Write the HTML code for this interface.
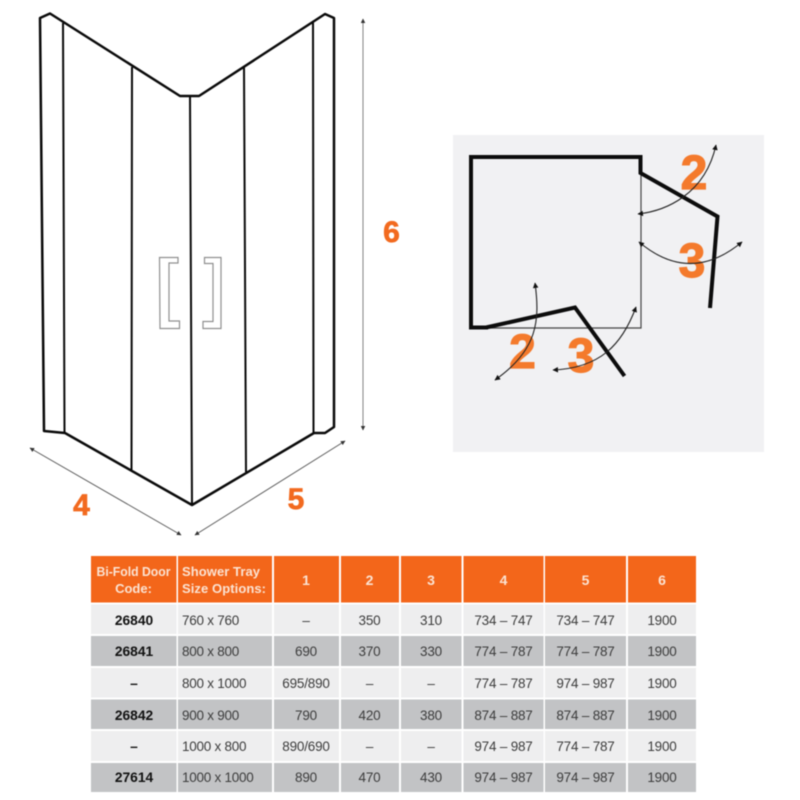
<!DOCTYPE html>
<html><head><meta charset="utf-8"><style>
html,body{margin:0;padding:0;background:#fff;width:800px;height:800px;overflow:hidden}
svg{display:block;filter:blur(.45px)}
text{font-family:"Liberation Sans",sans-serif}
.o{fill:#f26a1f;stroke:#f26a1f;stroke-width:.7;font-weight:bold;text-anchor:middle}
.p{fill:#f47a2c;stroke:#f47a2c;stroke-width:1.2;font-weight:bold;text-anchor:middle;font-size:48px}
.h{fill:#fbe3d3;font-weight:bold;font-size:13px}
.n{font-size:14px}
.hc{text-anchor:middle}
.c{fill:#3c3c3c;font-size:13.5px;letter-spacing:-.2px;text-anchor:middle}
.l{fill:#3c3c3c;font-size:13.5px;letter-spacing:-.25px}
.b{fill:#111;font-size:13.8px;font-weight:bold;text-anchor:middle}
</style></head><body>
<svg width="800" height="800" viewBox="0 0 800 800" xmlns="http://www.w3.org/2000/svg">
<defs>
<marker id="a" viewBox="0 0 10 10" refX="9" refY="5" markerWidth="5.500" markerHeight="4.500" orient="auto-start-reverse" markerUnits="userSpaceOnUse"><path d="M0 0L10 5L0 10z" fill="#333"/></marker>
<marker id="k" viewBox="0 0 10 10" refX="9" refY="5" markerWidth="6.500" markerHeight="5.500" orient="auto-start-reverse" markerUnits="userSpaceOnUse"><path d="M0 0L10 5L0 10z" fill="#111"/></marker>
</defs>
<rect width="800" height="800" fill="#fff"/>

<!-- shower enclosure -->
<g fill="none" stroke="#0a0a0a" stroke-linejoin="round">
<path d="M44 431L40 18L50 13.5L180 96H199L325 14L334 18V427L325 433H314L192 505L65 433Z" stroke-width="2.500"/>
<path d="M63 23L64.500 433M132 67L131.500 470M190 96L192 505M244 67L246 472M313 22L313.500 433" stroke-width="2"/>
</g>
<g fill="none" stroke="#8f8f8f" stroke-width="1.200">
<path d="M159.500 257.500H178V263H169V321H179.500V328.500H160Z"/>
<path d="M204.500 257.500H221V328.500H203V321.500H213V263.500H204.500Z"/>
</g>
<g fill="none" stroke="#555" stroke-width=".9">
<path d="M363 19V430" stroke="#777" marker-start="url(#a)" marker-end="url(#a)"/>
<path d="M30 448L181 535" marker-start="url(#a)" marker-end="url(#a)"/>
<path d="M345 441L195 535" marker-start="url(#a)" marker-end="url(#a)"/>
</g>
<text class="o" x="81.500" y="515" font-size="30">4</text>
<text class="o" x="296" y="509" font-size="30">5</text>
<text class="o" x="391.500" y="242" font-size="30">6</text>

<!-- plan panel -->
<rect x="453" y="135" width="311" height="317" fill="#f1f1f3"/>
<path d="M641 173V328H471" fill="none" stroke="#444" stroke-width="1.200"/>
<g fill="none" stroke="#0c0c0c" stroke-linejoin="miter">
<path d="M488 327.500H471V157H640.500V173L717.500 216.500L710 308" stroke-width="4"/>
<path d="M486 327.500L575 307.500L624.500 376" stroke-width="4"/>
</g>
<text class="p" x="694" y="189">2</text>
<text class="p" x="692" y="277">3</text>
<text class="p" x="522.500" y="368">2</text>
<text class="p" x="581" y="372">3</text>
<g fill="none" stroke="#222" stroke-width="1.100">
<path d="M638 214C665 211 705 195 716 145" marker-start="url(#k)" marker-end="url(#k)"/>
<path d="M639 242Q690 285 742 242" marker-start="url(#k)" marker-end="url(#k)"/>
<path d="M535 283C540 320 538 350 495 380" marker-end="url(#k)" marker-start="url(#k)"/>
<path d="M636 307C622 345 600 368 553 370" marker-end="url(#k)" marker-start="url(#k)"/>
</g>

<!-- table header -->
<g fill="#f3661a">
<rect x="91" y="556" width="85.500" height="46.500"/>
<rect x="178" y="556" width="94" height="46.500"/>
<rect x="274" y="556" width="65" height="46.500"/>
<rect x="341" y="556" width="58" height="46.500"/>
<rect x="401" y="556" width="60.500" height="46.500"/>
<rect x="463.500" y="556" width="80" height="46.500"/>
<rect x="545" y="556" width="81" height="46.500"/>
<rect x="628" y="556" width="68" height="46.500"/>
</g>
<text class="h hc" x="133.500" y="576" textLength="74" lengthAdjust="spacingAndGlyphs">Bi-Fold Door</text>
<text class="h hc" x="133.500" y="593">Code:</text>
<text class="h" x="182" y="576" textLength="78" lengthAdjust="spacing">Shower Tray</text>
<text class="h" x="182" y="593" textLength="84" lengthAdjust="spacing">Size Options:</text>
<text class="h n hc" x="306" y="585">1</text>
<text class="h n hc" x="369.500" y="585">2</text>
<text class="h n hc" x="431" y="585">3</text>
<text class="h n hc" x="503.500" y="585">4</text>
<text class="h n hc" x="585.500" y="585">5</text>
<text class="h n hc" x="662" y="585">6</text>

<!-- rows backgrounds -->
<g fill="#eeeeef">
<path d="M91 604.500H176.500V634H91ZM178 604.500H272V634H178ZM274 604.500H339V634H274ZM341 604.500H399V634H341ZM401 604.500H461.500V634H401ZM463.500 604.500H543.500V634H463.500ZM545 604.500H626V634H545ZM628 604.500H696V634H628Z"/>
<path d="M91 668H176.500V697.500H91ZM178 668H272V697.500H178ZM274 668H339V697.500H274ZM341 668H399V697.500H341ZM401 668H461.500V697.500H401ZM463.500 668H543.500V697.500H463.500ZM545 668H626V697.500H545ZM628 668H696V697.500H628Z"/>
<path d="M91 731H176.500V761H91ZM178 731H272V761H178ZM274 731H339V761H274ZM341 731H399V761H341ZM401 731H461.500V761H401ZM463.500 731H543.500V761H463.500ZM545 731H626V761H545ZM628 731H696V761H628Z"/>
</g>
<g fill="#c2c3c5">
<path d="M91 636H176.500V666H91ZM178 636H272V666H178ZM274 636H339V666H274ZM341 636H399V666H341ZM401 636H461.500V666H401ZM463.500 636H543.500V666H463.500ZM545 636H626V666H545ZM628 636H696V666H628Z"/>
<path d="M91 699.500H176.500V729H91ZM178 699.500H272V729H178ZM274 699.500H339V729H274ZM341 699.500H399V729H341ZM401 699.500H461.500V729H401ZM463.500 699.500H543.500V729H463.500ZM545 699.500H626V729H545ZM628 699.500H696V729H628Z"/>
<path d="M91 763H176.500V792H91ZM178 763H272V792H178ZM274 763H339V792H274ZM341 763H399V792H341ZM401 763H461.500V792H401ZM463.500 763H543.500V792H463.500ZM545 763H626V792H545ZM628 763H696V792H628Z"/>
</g>

<!-- row 1 -->
<text class="b" x="134" y="625">26840</text><text class="l" x="182" y="625">760 x 760</text><text class="c" x="306" y="625">–</text><text class="c" x="369.500" y="625">350</text><text class="c" x="431" y="625">310</text><text class="c" x="503.500" y="625">734 – 747</text><text class="c" x="585.500" y="625">734 – 747</text><text class="c" x="662" y="625">1900</text>
<!-- row 2 -->
<text class="b" x="134" y="656">26841</text><text class="l" x="182" y="656">800 x 800</text><text class="c" x="306" y="656">690</text><text class="c" x="369.500" y="656">370</text><text class="c" x="431" y="656">330</text><text class="c" x="503.500" y="656">774 – 787</text><text class="c" x="585.500" y="656">774 – 787</text><text class="c" x="662" y="656">1900</text>
<!-- row 3 -->
<text class="b" x="134" y="688">–</text><text class="l" x="182" y="688">800 x 1000</text><text class="c" x="306" y="688">695/890</text><text class="c" x="369.500" y="688">–</text><text class="c" x="431" y="688">–</text><text class="c" x="503.500" y="688">774 – 787</text><text class="c" x="585.500" y="688">974 – 987</text><text class="c" x="662" y="688">1900</text>
<!-- row 4 -->
<text class="b" x="134" y="720">26842</text><text class="l" x="182" y="720">900 x 900</text><text class="c" x="306" y="720">790</text><text class="c" x="369.500" y="720">420</text><text class="c" x="431" y="720">380</text><text class="c" x="503.500" y="720">874 – 887</text><text class="c" x="585.500" y="720">874 – 887</text><text class="c" x="662" y="720">1900</text>
<!-- row 5 -->
<text class="b" x="134" y="751">–</text><text class="l" x="182" y="751">1000 x 800</text><text class="c" x="306" y="751">890/690</text><text class="c" x="369.500" y="751">–</text><text class="c" x="431" y="751">–</text><text class="c" x="503.500" y="751">974 – 987</text><text class="c" x="585.500" y="751">774 – 787</text><text class="c" x="662" y="751">1900</text>
<!-- row 6 -->
<text class="b" x="134" y="782">27614</text><text class="l" x="182" y="782">1000 x 1000</text><text class="c" x="306" y="782">890</text><text class="c" x="369.500" y="782">470</text><text class="c" x="431" y="782">430</text><text class="c" x="503.500" y="782">974 – 987</text><text class="c" x="585.500" y="782">974 – 987</text><text class="c" x="662" y="782">1900</text>
</svg>
</body></html>
